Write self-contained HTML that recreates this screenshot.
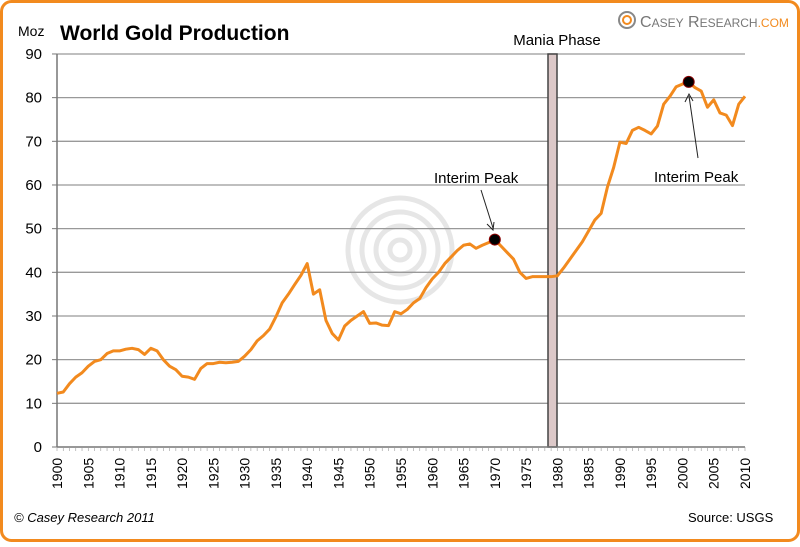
<!DOCTYPE html>
<html><head><meta charset="utf-8"><style>
body{margin:0;background:#fff;}
svg text{font-family:"Liberation Sans",sans-serif;}
</style></head><body>
<svg width="800" height="542" viewBox="0 0 800 542">
<rect x="1.5" y="1.5" width="797" height="539" rx="10" fill="#fff" stroke="#f28a1e" stroke-width="3"/>
<text x="60" y="40" font-size="21" font-weight="bold" fill="#000">World Gold Production</text>
<text x="18" y="36" font-size="14" fill="#000">Moz</text>
<g>
<circle cx="627" cy="20" r="8" fill="none" stroke="#888" stroke-width="2"/>
<circle cx="627" cy="20" r="4" fill="none" stroke="#f28a1e" stroke-width="2"/>
<text x="640" y="27" font-size="16" fill="#777" font-family="Liberation Serif,serif">C<tspan font-size="12">ASEY</tspan> R<tspan font-size="12">ESEARCH</tspan><tspan fill="#f28a1e" font-size="12">.COM</tspan></text>
</g>
<g fill="none" stroke="#e6e6e6" stroke-width="5">
<circle cx="400" cy="250" r="52"/><circle cx="400" cy="250" r="38"/><circle cx="400" cy="250" r="24"/><circle cx="400" cy="250" r="10"/>
</g>
<g id="grid"></g>
<rect x="548" y="54" width="9" height="393" fill="#dcc8c8" stroke="#444" stroke-width="1.5"/>
<text x="557" y="45" font-size="15" text-anchor="middle">Mania Phase</text>
<g id="axes"></g>
<polyline id="line" fill="none" stroke="#f28a1e" stroke-width="3" stroke-linejoin="round"/>
<g id="peaks"></g>
<text x="434" y="183" font-size="15">Interim Peak</text>
<line x1="481" y1="190" x2="493" y2="228" stroke="#222" stroke-width="1"/>
<polyline points="487,224 493,230 494,222" fill="none" stroke="#222"/>
<text x="654" y="182" font-size="15">Interim Peak</text>
<line x1="698" y1="158" x2="689" y2="96" stroke="#222" stroke-width="1"/>
<polyline points="685,102 689,94 693,101" fill="none" stroke="#222"/>
<text x="14" y="522" font-size="13" font-style="italic">© Casey Research 2011</text>
<text x="688" y="522" font-size="13">Source:  USGS</text>
</svg>
<script>
const years=[];for(let y=1900;y<=2010;y++)years.push(y);
const values=[12.3,12.6,14.5,16,17,18.5,19.6,20,21.4,22,22,22.4,22.6,22.3,21.2,22.6,22,20,18.5,17.7,16.2,16,15.5,18,19.1,19.1,19.4,19.3,19.4,19.6,20.8,22.3,24.3,25.5,27,29.8,33,35,37.2,39.3,42,35,36,29,26,24.5,27.7,29,30,31,28.3,28.4,27.9,27.8,31,30.5,31.5,33,34,36.5,38.5,40,42,43.5,45,46.2,46.5,45.5,46.2,46.8,47.5,46,44.5,43,40,38.6,39,39,39,39,39.2,41,43,45,47,49.5,52,53.5,59.5,64,69.8,69.5,72.5,73.2,72.5,71.7,73.5,78.5,80.3,82.5,83.1,83.6,82.3,81.5,77.8,79.5,76.5,76,73.6,78.5,80.3];
const yTicks=[0,10,20,30,40,50,60,70,80,90];
const xTicks=[1900,1905,1910,1915,1920,1925,1930,1935,1940,1945,1950,1955,1960,1965,1970,1975,1980,1985,1990,1995,2000,2005,2010];
const peakYears=[1970,2001];
const X=y=>57+(y-1900)*6.2545, Y=v=>447-v*4.367;
const NS="http://www.w3.org/2000/svg";
const grid=document.getElementById('grid'),axes=document.getElementById('axes');
function mk(tag,attrs,parent){const e=document.createElementNS(NS,tag);for(const k in attrs)e.setAttribute(k,attrs[k]);parent.appendChild(e);return e;}
yTicks.forEach(v=>{
 if(v>0){const g=mk('line',{x1:57,x2:745,y1:Y(v),y2:Y(v),stroke:'#999','stroke-width':1.3},grid);
 
 }
 const t=mk('text',{x:42,y:Y(v)+5,'font-size':15,'text-anchor':'end'},axes);t.textContent=v;
 
 
 mk('line',{x1:52,x2:57,y1:Y(v),y2:Y(v),stroke:'#777'},axes);
});
const ax=mk('line',{x1:57,x2:57,y1:54,y2:447,stroke:'#777','stroke-width':1.5},axes);


const bx=mk('line',{x1:57,x2:745,y1:447,y2:447,stroke:'#777','stroke-width':1.5},axes);


years.forEach(y=>mk('line',{x1:X(y),x2:X(y),y1:447,y2:451,stroke:'#999','stroke-width':0.6},axes));
xTicks.forEach(y=>{
 const t=mk('text',{transform:`translate(${X(y)+5},${489}) rotate(-90)`,'font-size':14},axes);t.textContent=y;
 
 
});
document.getElementById('line').setAttribute('points',years.map((y,i)=>X(y)+','+Y(values[i])).join(' '));
peakYears.forEach(py=>{
 const c=mk('circle',{cx:X(py),cy:Y(values[years.indexOf(py)]),r:5.5,fill:'#000',stroke:'#800','stroke-width':1},document.getElementById('peaks'));
 
 
});
</script>
</body></html>
